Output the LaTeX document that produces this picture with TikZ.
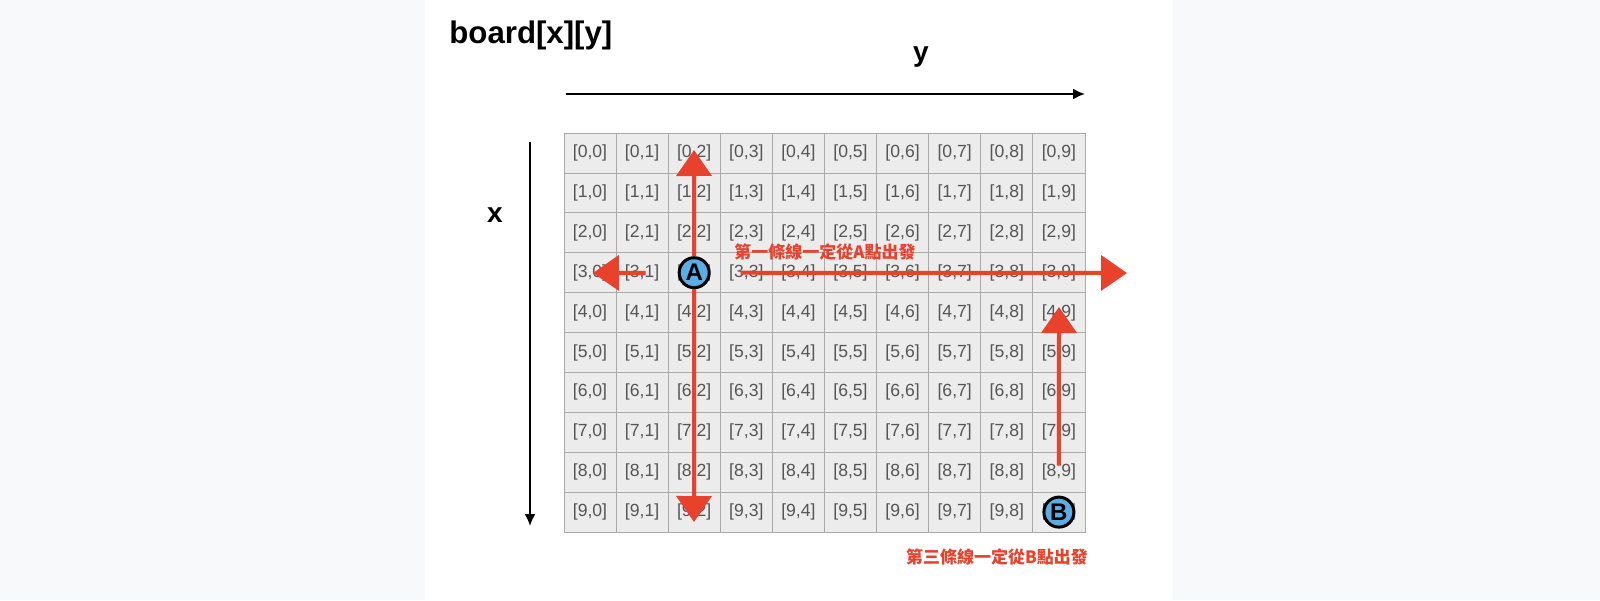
\documentclass[tikz,border=0pt]{standalone}
\usepackage{fontspec}
\setmainfont{Liberation Sans}
\newfontfamily\cjk{Noto Sans CJK TC}
\usetikzlibrary{arrows.meta}
\definecolor{pagegray}{HTML}{F8F9FB}
\definecolor{cellgray}{HTML}{ECECEC}
\definecolor{linegray}{HTML}{A9A9A9}
\definecolor{textgray}{HTML}{555555}
\definecolor{penred}{HTML}{E8412C}
\definecolor{dotblue}{HTML}{5AAEE6}
\tikzset{
  >=latex,
  cell/.style = {draw=linegray, fill=cellgray, text=textgray,
                 minimum width=26.05pt, minimum height=19.95pt,
                 inner sep=0, font=\fontsize{8.8}{10}\selectfont},
  axis/.style = {line width=1pt, -{Latex[length=6pt,width=5.5pt]}},
  pen/.style = {draw=penred, line width=2pt,
                -{Triangle[length=13pt,width=17.5pt]}},
  dot/.style = {circle, draw=black, line width=1.5pt, fill=dotblue,
                inner sep=0, minimum size=15pt,
                font=\bfseries\fontsize{12}{12}\selectfont},
  note/.style = {text=penred, inner sep=0,
                 font=\cjk\bfseries\fontsize{8.5}{10}\selectfont},
  axislabel/.style = {inner sep=0, font=\bfseries\fontsize{14}{16}\selectfont},
}
\begin{document}
\begin{tikzpicture}[x=0.5pt,y=-0.5pt]
    \fill[pagegray] (0,0) rectangle (1600,600);
    \fill[white] (425,0) rectangle (1173,600);
    \node[inner sep=0, anchor=base west,
          font=\bfseries\fontsize{15.6}{18}\selectfont] (title) at (449,43) {board[x][y]};
    % axes
    \node[axislabel] (ylab) at (921,57) {y};
    \node[axislabel] (xlab) at (495,215) {x};
    \coordinate (ystart) at (566,94);
    \coordinate (yend) at (1085,94);
    \coordinate (xstart) at (530,142);
    \coordinate (xend) at (530,526);
    \draw[axis] (ystart) -- (yend);
    \draw[axis] (xstart) -- (xend);
    % board
    \foreach \r in {0,...,9}
      \foreach \c in {0,...,9}
        \node[cell] (c\r\c) at ({590+52.1*\c},{153+39.9*\r}) {[\r,\c]};
    \node[dot] (ptA) at (c32) {A};
    \node[dot] (ptB) at (c99) {B};
    \coordinate (tipU) at (694,150);
    \coordinate (tipD) at (694,522);
    \coordinate (tipL) at (593,273);
    \coordinate (tipR) at (1127,273);
    \coordinate (tipB) at (1059,307);
    \draw[pen] (ptA) -- (tipU);
    \draw[pen] (ptA) -- (tipD);
    \draw[pen, shorten <=16pt] (ptA) -- (tipL);
    \draw[pen, shorten <=15pt] (ptA) -- (tipR);
    \draw[pen, shorten <=15pt] (ptB) -- (tipB);
    \node[note] (noteA) at (825,252) {第一條線一定從A點出發};
    \node[note] (noteB) at (997,557) {第三條線一定從B點出發};
\end{tikzpicture}
\end{document}
